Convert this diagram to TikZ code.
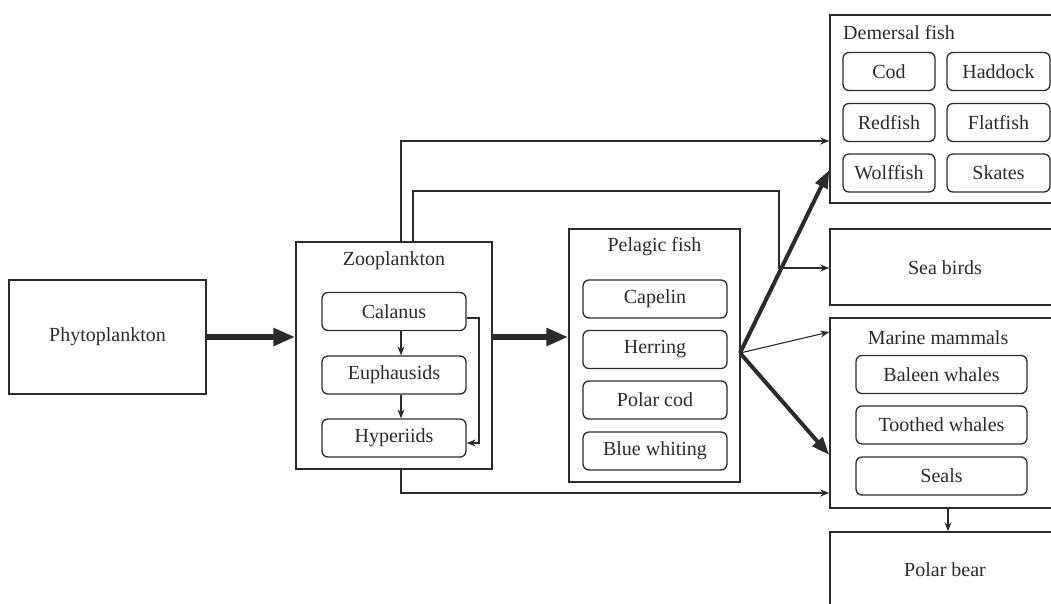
\documentclass[tikz,border=0pt]{standalone}
\usepackage{fontspec}
\setmainfont{Liberation Serif}
\usetikzlibrary{arrows.meta,calc}
\definecolor{ink}{HTML}{2B2B2B}
\begin{document}
\begin{tikzpicture}[x=1pt,y=-1pt,
  font=\fontsize{20}{24}\selectfont, text=ink,
  outer/.style={draw=ink,line width=1.5pt,inner sep=0pt},
  inbox/.style={draw=ink,line width=1.3pt,rounded corners=6pt,inner sep=0pt,minimum height=38pt},
  thinarrow/.style={draw=ink,line width=1.1pt,-{Stealth[length=9pt,width=7pt]}},
  thickarrow/.style={draw=ink,line width=6pt,-{Triangle[length=22pt,width=17pt]}},
  diagarrow/.style={draw=ink,line width=4pt,-{Triangle[length=18pt,width=13pt]}},
  ttl/.style={inner sep=0pt}
]
\useasboundingbox (0,0) rectangle (1051,603);
\clip (0,0) rectangle (1051,603);

% Phytoplankton
\node[outer,minimum width=197pt,minimum height=114pt] (phyto) at (107.5,337) {Phytoplankton};

% Zooplankton
\node[outer,minimum width=196pt,minimum height=227pt] (zoo) at (394,355.5) {};
\node[ttl] (zooT) at (394,261) {Zooplankton};
\node[inbox,minimum width=144pt] (calanus) at (394,311.5) {Calanus};
\node[inbox,minimum width=144pt] (euph) at (394,375) {Euphausids};
\node[inbox,minimum width=144pt] (hyper) at (394,438) {Hyperiids};

% Pelagic fish
\node[outer,minimum width=171pt,minimum height=253pt] (pelagic) at (654.5,355.5) {};
\node[ttl] (pelT) at (654.5,247) {Pelagic fish};
\node[inbox,minimum width=144pt] (capelin) at (655,299) {Capelin};
\node[inbox,minimum width=144pt] (herring) at (655,349.5) {Herring};
\node[inbox,minimum width=144pt] (polarcod) at (655,400) {Polar cod};
\node[inbox,minimum width=144pt] (bluewhiting) at (655,451) {Blue whiting};

% Demersal fish
\node[outer,minimum width=240pt,minimum height=188pt] (demersal) at (950,109) {};
\node[ttl,anchor=west] (demT) at (843,33) {Demersal fish};
\node[inbox,minimum width=92pt] (cod) at (889,71.5) {Cod};
\node[inbox,minimum width=103pt] (haddock) at (998.5,71.5) {Haddock};
\node[inbox,minimum width=92pt] (redfish) at (889,122.5) {Redfish};
\node[inbox,minimum width=103pt] (flatfish) at (998.5,122.5) {Flatfish};
\node[inbox,minimum width=92pt] (wolffish) at (889,173) {Wolffish};
\node[inbox,minimum width=103pt] (skates) at (998.5,173) {Skates};

% Sea birds
\node[outer,minimum width=240pt,minimum height=76pt] (seabirds) at (950,267) {};
\node[ttl] (seabirdsT) at (945,268) {Sea birds};

% Marine mammals
\node[outer,minimum width=240pt,minimum height=190pt] (mammals) at (950,413) {};
\node[ttl] (mamT) at (938,338) {Marine mammals};
\node[inbox,minimum width=171pt] (baleen) at (941.5,374.5) {Baleen whales};
\node[inbox,minimum width=171pt] (toothed) at (941.5,425) {Toothed whales};
\node[inbox,minimum width=171pt] (seals) at (941.5,476) {Seals};

% Polar bear
\node[outer,minimum width=240pt,minimum height=108pt] (polar) at (950,586) {};
\node[ttl] (polarT) at (945,570) {Polar bear};

% helper coordinates
\coordinate (zx) at (401,0);
\coordinate (zx2) at (413,0);
\coordinate (hs) at (740,353);
\coordinate (px) at (948,0);

% zooplankton internal
\draw[thinarrow] (calanus.south -| zx) -- (euph.north -| zx);
\draw[thinarrow] (euph.south -| zx) -- (hyper.north -| zx);
\draw[thinarrow] ([yshift=-6.5pt]calanus.east) -- (479,318) -- (479,443) -- ([yshift=-5pt]hyper.east);

% main flow
\draw[thickarrow] (phyto.east) -- (zoo.west |- phyto.east);
\draw[thickarrow] (zoo.east |- phyto.east) -- (pelagic.west |- phyto.east);

% zooplankton bypass lines
\draw[thinarrow] (zoo.north -| zx) |- (demersal.west |- 0,141);
\draw[thinarrow] (zoo.north -| zx2) |- (779,191) |- (seabirds.west |- 0,268);
\draw[thinarrow] (zoo.south -| zx) |- (mammals.west |- 0,493);

% from herring
\draw[diagarrow] (hs) -- (demersal.west |- 0,170);
\draw[thinarrow] (hs) -- (mammals.west |- 0,332);
\draw[diagarrow] (hs) -- (mammals.west |- 0,455);

% mammals to polar bear
\draw[thinarrow] (mammals.south -| px) -- (polar.north -| px);
\end{tikzpicture}
\end{document}
